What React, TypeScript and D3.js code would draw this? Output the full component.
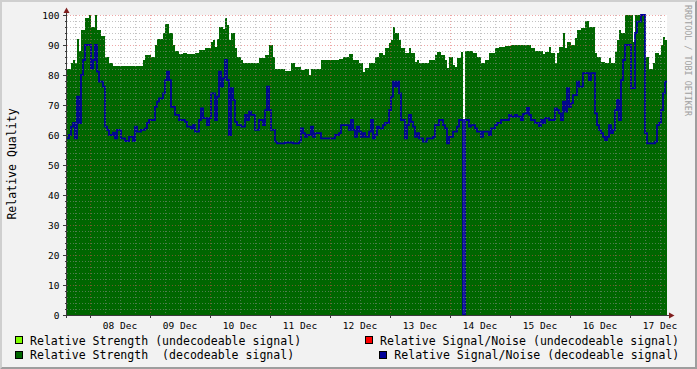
import React from "react";
import * as d3 from "d3";

// ---- data (one sample every 48 minutes, starting 07 Dec 14:48) ----
const startTime = new Date(2007, 11, 7, 14, 48);
const stepMinutes = 48;

const strengthDecoded: number[] = [
  82, 82, 84, 85, 84, 92, 88, 95, 95, 99,
  99, 100, 96, 96, 100, 95, 95, 93, 93, 86,
  86, 84, 84, 83, 83, 83, 83, 83, 83, 83,
  83, 83, 83, 83, 83, 83, 83, 83, 85, 86.7,
  86.7, 86.7, 86, 86, 90, 92, 92, 92, 94, 97,
  97, 94, 94, 90, 88, 88, 87, 87, 87.5, 87.5,
  87, 87, 87, 87, 87.5, 87.5, 88.4, 88.4, 88.4, 89,
  89, 89, 91, 91.7, 89.4, 92, 96, 96, 95.5, 99,
  96.7, 91.7, 94, 94, 89, 86, 86, 85, 84, 84,
  84, 84, 84, 84, 84, 84, 85.6, 85.6, 85.6, 86.7,
  86.7, 90, 90, 86, 82, 82, 82, 82, 82, 81.5,
  81.5, 81.5, 84, 84, 82.8, 82.8, 82.8, 81.7, 81.7, 82,
  82, 80, 82, 82, 82, 82, 82, 85, 85, 85,
  85, 85, 85, 85, 85, 85, 85.2, 85.2, 86, 86,
  86, 87, 87, 85, 85, 85, 84, 84, 81.1, 82.2,
  82.2, 84, 84, 84, 86, 86, 87.2, 87.2, 86.7, 89,
  89, 90.6, 91.7, 96, 93.9, 93.9, 91.7, 89, 89, 87.2,
  87.2, 89, 87.2, 87.2, 84.4, 85, 84, 84, 84, 84,
  84, 85, 85, 85, 86.7, 87.8, 87.8, 86.7, 86.7, 85,
  82.2, 86.1, 86.1, 83.3, 82.8, 85.6, 85.6, 87.8, NaN, 88.1,
  88.1, 88.1, 88.1, 87.2, 87.2, 86.1, 86.1, 84, 84, 85,
  85, 87.2, 87.2, 87.2, 89, 89, 89.2, 89.2, 89.2, 89.7,
  89.7, 89.7, 90, 90, 90, 90, 90, 90, 90, 90,
  90, 90, 89, 89, 88.1, 88.1, 88.1, 88.1, 87, 87.8,
  87.8, 89.2, 87.2, 87.2, 84.1, 87.2, 89.4, 89.4, 94, 89,
  90.9, 90.9, 90, 90, 92.2, 95, 95, 95.6, 95.6, 98,
  98, 96.1, 96.1, 96.1, 87.2, 86.1, 86.1, 84.4, 84.4, 84,
  84, 85.6, 84, 84, 87.8, 91.7, 95, 93.9, 93.9, 100,
  100, 100, 100, 91, 100, 100, 100, 100, 100, 86.1,
  86.1, 81.9, 81.9, 84, 87.2, 87.2, 86.7, 90, 92.8, 91.7,
];

const snrDecoded: number[] = [
  58.9, 60, 62.8, 64, 58.9, 72.8, 64, 80, 85, 90,
  90, 90, 82.2, 85, 90, 81.1, 77.8, 77.8, 76.1, 62.8,
  61.7, 60, 60, 60.8, 58.9, 61.7, 61.7, 58.9, 58.9, 58,
  58, 59.4, 59.4, 58, 62.8, 61.1, 61.1, 61.7, 61.7, 62.2,
  64, 65, 65, 65, 69.4, 71.1, 72.2, 72.2, 73.9, 78.3,
  81.1, 78.3, 69.4, 69.4, 66.7, 66.7, 65, 65, 65, 64.4,
  62.8, 62.8, 62.2, 63.3, 61.1, 61.1, 65, 68.9, 65.6, 65.6,
  63.3, 65.6, 73.9, 73.9, 65, 72.8, 81.1, 76.1, 78.9, 85,
  78.3, 60, 75.6, 71.7, 64.4, 63.3, 63.3, 62.8, 62.8, 66.7,
  65, 67.8, 66.7, 66.7, 61.7, 61.7, 65, 65, 63.3, 68.3,
  76.1, 68.3, 61.7, 61.7, 57.8, 57.2, 57.2, 57.2, 57.2, 57.5,
  57.5, 57.5, 57.5, 57.2, 57.2, 57.2, 57.8, 62.2, 60.6, 59.4,
  60, 60, 62.8, 59.4, 60.6, 60.6, 60.6, 58.9, 58.9, 58.9,
  58.9, 58.9, 58.9, 58.9, 60, 60, 60.6, 63.3, 63.3, 63.3,
  63.3, 61.7, 65, 61.7, 59.4, 62.8, 61.1, 59.4, 60.6, 59.4,
  59.4, 61.1, 65, 58.9, 60, 62.8, 62.2, 62.2, 63.3, 64,
  64, 68.3, 72.8, 77.8, 76.1, 77.8, 73.9, 65, 65, 58.9,
  63.3, 66.7, 64.4, 62.8, 59.4, 60.6, 58.9, 58.9, 57.8, 57.8,
  58.9, 58.9, 58.9, 59.4, 63.3, 63.3, 65, 65, 63.3, 62.2,
  57.2, 59.4, 59.4, 61.1, 61.1, 62.8, 65, 65, 0, 65,
  65, 62.8, 63.3, 63.3, 62.2, 61.1, 61.1, 59.4, 61.1, 61.1,
  61.1, 60, 62.2, 62.2, 63.3, 64, 64, 65, 65, 65,
  65, 66.7, 66.1, 66.1, 66.7, 66.1, 66.1, 65, 67, 67.2,
  69, 66.7, 65, 65, 64, 64, 63, 65, 64, 65.6,
  65.6, 65, 65, 65, 68.9, 68.3, 67.2, 65, 71.1, 67.8,
  75.6, 69.4, 70.6, 73.3, 73.3, 77.8, 76.1, 76.1, 80.6, 80.6,
  80.6, 78.3, 80.6, 80.6, 67.2, 63.3, 61.7, 60.6, 59.4, 58.3,
  59.4, 63.3, 60.6, 61.7, 68.3, 71.7, 65, 78.3, 85, 90,
  90, 90, 75.6, 75.6, 94, 97.8, 97.8, 100, 100, 60.6,
  57.2, 57.2, 57.2, 57.2, 57.8, 63.3, 64, 68.3, 73.9, 77.8,
];

const yTickValues = [0, 10, 20, 30, 40, 50, 60, 70, 80, 90, 100];
const dayLabels = ["08 Dec", "09 Dec", "10 Dec", "11 Dec", "12 Dec", "13 Dec", "14 Dec", "15 Dec", "16 Dec", "17 Dec"];
const yTitle = "Relative Quality";
const watermark = "RRDTOOL / TOBI OETIKER";
const legendLeft = ["Relative Strength (undecodeable signal)", "Relative Strength\u00a0\u00a0(decodeable signal)"];
const legendRight = ["Relative Signal/Noise (undecodeable signal)", "Relative Signal/Noise (decodeable signal)"];

const COL = {
  back: "#f2f2f2",
  canvas: "#ffffff",
  shadeA: "#cfcfcf",
  shadeB: "#9e9e9e",
  grid: "rgba(143,143,143,0.55)",
  mgrid: "rgba(222,79,79,0.5)",
  arrow: "#801f1f",
  axis: "#3a3a3a",
  strengthU: "#80ff00",
  strengthD: "#006600",
  snrU: "#ff0000",
  snrD: "#000099",
};

type P = { t: Date; v: number };

export default function App() {
  const W = 697, H = 369;
  const L = 67, R = 667, T = 15, B = 315;
  const stepMs = stepMinutes * 60000;
  const endTime = new Date(startTime.getTime() + strengthDecoded.length * stepMs);

  const x = d3.scaleTime().domain([startTime, endTime]).range([L, R]);
  const y = d3.scaleLinear().domain([0, 100]).range([B, T]);

  const stepPts = (vals: number[]): P[] =>
    vals.flatMap((v, i) => {
      const t0 = new Date(startTime.getTime() + i * stepMs);
      const t1 = new Date(t0.getTime() + stepMs);
      return [{ t: t0, v }, { t: t1, v }];
    });

  const area = d3
    .area<P>()
    .defined((d) => !isNaN(d.v))
    .x((d) => x(d.t))
    .y0(y(0))
    .y1((d) => y(d.v));
  const line = d3
    .line<P>()
    .defined((d) => !isNaN(d.v))
    .x((d) => x(d.t))
    .y((d) => y(d.v));

  const days = d3.timeDay.range(startTime, endTime);
  const sixHours = d3.timeHour.every(6)!.range(startTime, endTime).filter((t) => t.getHours() !== 0);
  const yMinor = d3.range(0, 101, 2).filter((v) => v % 10 !== 0);
  const noons = d3.timeDay
    .range(startTime, endTime)
    .map((d) => d3.timeHour.offset(d, 12))
    .filter((t) => t >= startTime && t <= endTime);

  const mono = "'DejaVu Sans Mono', monospace";

  return (
    <svg width={W} height={H} style={{ display: "block", position: "absolute", left: 0, top: 0 }}>
      <rect x={0} y={0} width={W} height={H} fill={COL.back} />
      {/* bevel border */}
      <polygon points={`0,0 ${W},0 ${W - 2},2 2,2 2,${H - 2} 0,${H}`} fill={COL.shadeA} />
      <polygon points={`${W},0 ${W},${H} 0,${H} 2,${H - 2} ${W - 2},${H - 2} ${W - 2},2`} fill={COL.shadeB} />

      <rect x={L} y={T} width={R - L} height={B - T} fill={COL.canvas} />

      <path d={area(stepPts(strengthDecoded)) || ""} fill={COL.strengthD} shapeRendering="crispEdges" />
      <path d={line(stepPts(snrDecoded)) || ""} fill="none" stroke={COL.snrD} strokeWidth={1.8} />

      {/* grid on top */}
      <g strokeWidth={1} strokeDasharray="1,2" shapeRendering="crispEdges">
        {yMinor.map((v) => (
          <line key={"hy" + v} x1={L} x2={R} y1={y(v) + 0.5} y2={y(v) + 0.5} stroke={COL.grid} />
        ))}
        {sixHours.map((t) => (
          <line key={"vx" + +t} x1={x(t) + 0.5} x2={x(t) + 0.5} y1={T} y2={B} stroke={COL.grid} />
        ))}
        {yTickValues.filter((v) => v > 0).map((v) => (
          <line key={"my" + v} x1={L} x2={R} y1={y(v) + 0.5} y2={y(v) + 0.5} stroke={COL.mgrid} />
        ))}
        {days.map((t) => (
          <line key={"mx" + +t} x1={x(t) + 0.5} x2={x(t) + 0.5} y1={T} y2={B} stroke={COL.mgrid} />
        ))}
      </g>

      {/* ticks */}
      <g stroke={COL.axis} strokeWidth={1} shapeRendering="crispEdges">
        {yTickValues.map((v) => (
          <line key={"ty" + v} x1={L - 4} x2={L} y1={y(v) + 0.5} y2={y(v) + 0.5} />
        ))}
        {yMinor.map((v) => (
          <line key={"tym" + v} x1={L - 2} x2={L} y1={y(v) + 0.5} y2={y(v) + 0.5} />
        ))}
        {days.map((t) => (
          <line key={"tx" + +t} x1={x(t) + 0.5} x2={x(t) + 0.5} y1={B} y2={B + 3} />
        ))}
        <line x1={L - 0.5} x2={L - 0.5} y1={B + 3} y2={T - 4} />
        <line x1={L - 4} x2={R + 3} y1={B + 0.5} y2={B + 0.5} />
      </g>
      <polygon points={`${L - 3.5},${T - 2} ${L - 0.5},${T - 7.5} ${L + 2.5},${T - 2}`} fill={COL.arrow} />
      <polygon points={`${R + 2},${B - 2.5} ${R + 7.5},${B + 0.5} ${R + 2},${B + 3.5}`} fill={COL.arrow} />

      {/* tick labels */}
      <g fontFamily={mono} fontSize={9.5} fill="#000">
        {yTickValues.map((v) => (
          <text key={"ly" + v} x={59.5} y={y(v)} textAnchor="end" dominantBaseline="central">
            {v}
          </text>
        ))}
        {noons.map((t, i) => (
          <text key={"lx" + i} x={x(t)} y={325} textAnchor="middle" dominantBaseline="central">
            {dayLabels[i]}
          </text>
        ))}
      </g>

      <text
        transform={`translate(11.5,164) rotate(-90)`}
        fontFamily={mono}
        fontSize={11.55}
        textAnchor="middle"
        dominantBaseline="central"
        fill="#000"
      >
        {yTitle}
      </text>

      <text
        transform={`translate(684.5,5) rotate(90)`}
        fontFamily={mono}
        fontSize={8.4}
        textAnchor="start"
        fill="#a0a0a0"
      >
        {watermark}
      </text>

      {/* legend */}
      <g fontFamily={mono} fontSize={11.55} fill="#000">
        <rect x={15.5} y={336.5} width={7} height={7} fill={COL.strengthU} stroke="#000" strokeWidth={1} />
        <text x={30} y={340.7} dominantBaseline="central" xmlSpace="preserve">{legendLeft[0]}</text>
        <rect x={15.5} y={351.5} width={7} height={7} fill={COL.strengthD} stroke="#000" strokeWidth={1} />
        <text x={30} y={355} dominantBaseline="central" xmlSpace="preserve">{legendLeft[1]}</text>
        <rect x={365.5} y={336.5} width={7} height={7} fill={COL.snrU} stroke="#000" strokeWidth={1} />
        <text x={380} y={340.7} dominantBaseline="central">{legendRight[0]}</text>
        <rect x={379.5} y={351.5} width={7} height={7} fill={COL.snrD} stroke="#000" strokeWidth={1} />
        <text x={394.3} y={355} dominantBaseline="central">{legendRight[1]}</text>
      </g>
    </svg>
  );
}
